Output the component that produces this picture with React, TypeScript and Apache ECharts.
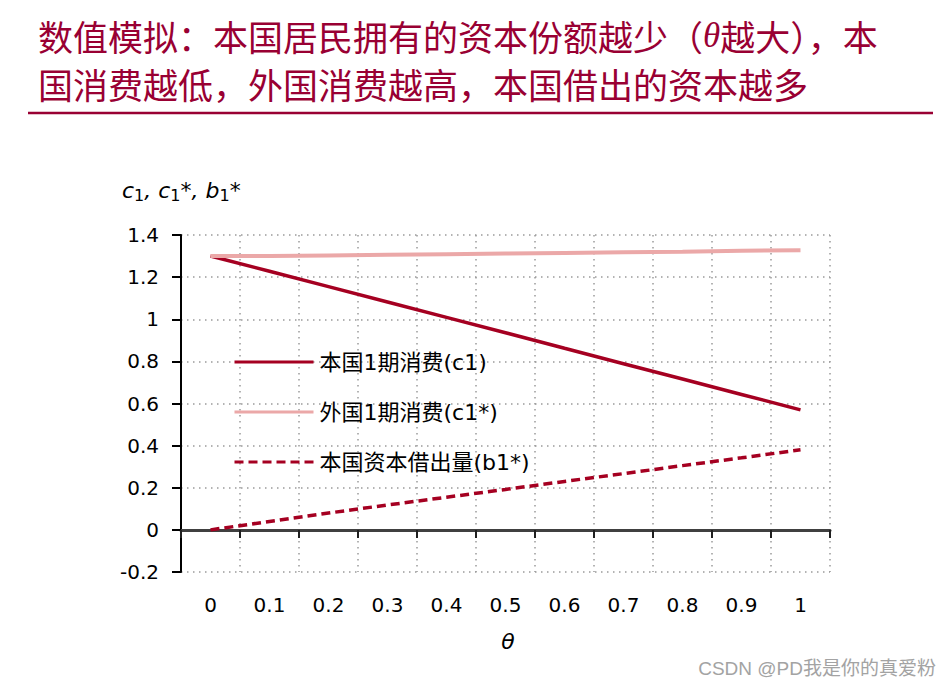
import React, { useEffect, useRef } from "react";
import * as echarts from "echarts";

const thetaLabels = ["0", "0.1", "0.2", "0.3", "0.4", "0.5", "0.6", "0.7", "0.8", "0.9", "1"];
const homeConsumption = [1.3, 1.228, 1.155, 1.082, 1.009, 0.936, 0.862, 0.789, 0.716, 0.643, 0.57];
const foreignConsumption = [1.3, 1.3, 1.303, 1.306, 1.309, 1.312, 1.315, 1.318, 1.321, 1.325, 1.328];
const homeLending = [0, 0.04, 0.08, 0.118, 0.155, 0.192, 0.23, 0.267, 0.305, 0.342, 0.38];
const seriesNames = ["本国1期消费(c1)", "外国1期消费(c1*)", "本国资本借出量(b1*)"];
const titleLine1 = ["数值模拟：本国居民拥有的资本份额越少（", "θ", "越大），本"];
const titleLine2 = "国消费越低，外国消费越高，本国借出的资本越多";

const DARK_RED = "#A50021";
const PINK = "#EBA8A8";
const TITLE_RED = "#990033";
const LATIN = "'DejaVu Sans', 'Noto Sans CJK SC', sans-serif";
const CJK = "'Noto Sans CJK SC', sans-serif";

export default function App() {
  const ref = useRef<HTMLDivElement>(null);
  useEffect(() => {
    if (!ref.current) return;
    const chart = echarts.init(ref.current, undefined, { renderer: "svg" });
    const gridLine = { show: true, lineStyle: { color: "#9a9a9a", width: 1.5, type: [1.5, 4.5] as any } };
    const titleStyle = { fontFamily: CJK, fontSize: 35, lineHeight: 40, fill: TITLE_RED };
    chart.setOption({
      animation: false,
      backgroundColor: "#ffffff",
      graphic: [
        {
          type: "text",
          x: 38,
          y: 35,
          style: {
            text: `{c|${titleLine1[0]}}{t|${titleLine1[1]}}{c|${titleLine1[2]}}`,
            verticalAlign: "middle",
            lineHeight: 40,
            rich: {
              c: titleStyle,
              t: { fontFamily: "'Liberation Serif', serif", fontStyle: "italic", fontSize: 35, lineHeight: 40, fill: TITLE_RED },
            },
          },
        },
        {
          type: "text",
          x: 38,
          y: 83,
          style: { text: titleLine2, verticalAlign: "middle", ...titleStyle },
        },
        {
          type: "line",
          shape: { x1: 28, y1: 113, x2: 933, y2: 113 },
          style: { stroke: TITLE_RED, lineWidth: 2.5 },
        },
        {
          type: "text",
          left: 122,
          top: 179,
          style: {
            text: "{i|c}{s|1}{i|, c}{s|1}{i|*, b}{s|1}{i|*}",
            rich: {
              i: { fontFamily: LATIN, fontStyle: "italic", fontSize: 22, fill: "#000" },
              s: { fontFamily: LATIN, fontSize: 16, fill: "#000", padding: [11, 0, 0, 0] },
            },
          },
        },
        {
          type: "text",
          x: 508,
          y: 641,
          style: {
            text: "θ",
            fontFamily: LATIN,
            fontStyle: "italic",
            fontSize: 22,
            fill: "#000",
            align: "center",
            verticalAlign: "middle",
          },
        },
        {
          type: "text",
          right: 14,
          top: 659,
          style: {
            text: "CSDN @PD我是你的真爱粉",
            fontFamily: "'Liberation Sans', 'Noto Sans CJK SC', sans-serif",
            fontSize: 19,
            fill: "#a3a3a3",
          },
        },
      ],
      legend: {
        orient: "vertical",
        left: 233,
        top: 350,
        padding: 0,
        itemWidth: 79,
        itemHeight: 2,
        itemGap: 26,
        data: seriesNames,
        itemStyle: { opacity: 0 },
        lineStyle: { width: 3 },
        textStyle: { fontFamily: LATIN, fontSize: 22, lineHeight: 24, color: "#000", padding: [0, 0, 0, 1] },
      },
      grid: { left: 181, right: 120, top: 235, bottom: 120 },
      xAxis: [
        {
          type: "category",
          data: thetaLabels,
          position: "bottom",
          boundaryGap: true,
          axisLine: { show: false, onZero: false },
          axisTick: { show: false },
          axisLabel: { fontFamily: LATIN, fontSize: 20, color: "#000", margin: 23, interval: 0 },
          splitLine: { ...gridLine, interval: 0 },
        },
        {
          type: "category",
          data: thetaLabels,
          position: "bottom",
          boundaryGap: true,
          axisLine: { show: true, onZero: true, onZeroAxisIndex: 0, lineStyle: { color: "#404040", width: 3 } },
          axisTick: { show: true, inside: false, length: 8, interval: 0, lineStyle: { color: "#202020", width: 2 } },
          axisLabel: { show: false },
          splitLine: { show: false },
        },
      ],
      yAxis: {
        type: "value",
        min: -0.2,
        max: 1.4,
        interval: 0.2,
        axisLine: { show: true, lineStyle: { color: "#000", width: 2 } },
        axisTick: { show: true, length: 9, lineStyle: { color: "#000", width: 2 } },
        axisLabel: {
          fontFamily: LATIN,
          fontSize: 20,
          color: "#000",
          margin: 22,
          formatter: (v: number) => String(Math.round(v * 10) / 10),
        },
        splitLine: gridLine,
      },
      series: [
        {
          name: seriesNames[0],
          type: "line",
          xAxisIndex: 0,
          data: homeConsumption,
          symbol: "none",
          lineStyle: { color: DARK_RED, width: 3.5 },
          itemStyle: { color: DARK_RED },
        },
        {
          name: seriesNames[1],
          type: "line",
          xAxisIndex: 0,
          data: foreignConsumption,
          symbol: "none",
          lineStyle: { color: PINK, width: 4 },
          itemStyle: { color: PINK },
        },
        {
          name: seriesNames[2],
          type: "line",
          xAxisIndex: 0,
          data: homeLending,
          symbol: "none",
          lineStyle: { color: DARK_RED, width: 3.5, type: [9, 5] },
          itemStyle: { color: DARK_RED },
        },
      ],
    });
    return () => chart.dispose();
  }, []);
  return <div ref={ref} style={{ width: 950, height: 692, margin: -8 }} />;
}
